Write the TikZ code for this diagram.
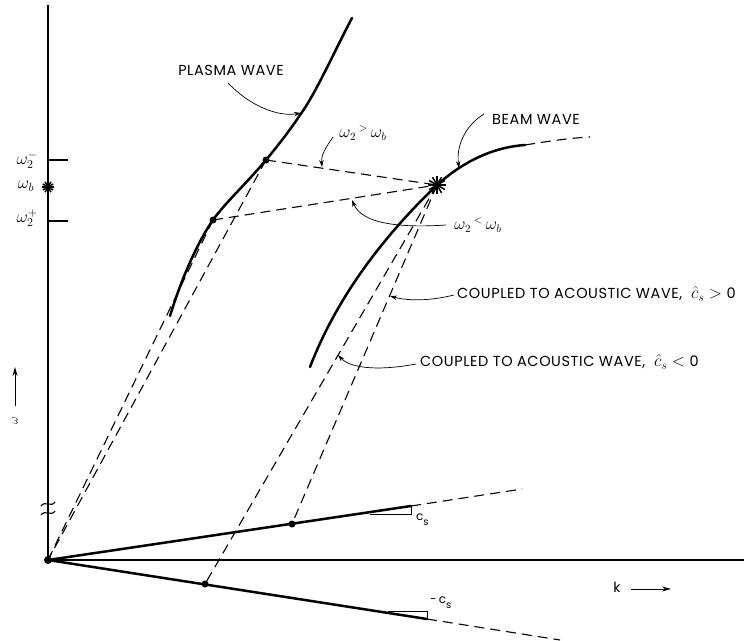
\documentclass[tikz,border=0pt]{standalone}
\usepackage{fontspec}
\setmainfont{Poppins}
\usetikzlibrary{arrows.meta,calc}
\begin{document}
\begin{tikzpicture}[x=1pt,y=-1pt,
  curve/.style={line width=2.5pt, line cap=round},
  axis/.style={line width=1.5pt},
  dline/.style={line width=1.1pt, dash pattern=on 10pt off 6pt},
  note/.style={line width=0.7pt, -{Stealth[length=7pt,width=4.5pt]}},
  lbl/.style={font=\fontsize{14.5}{16}\selectfont\addfontfeature{LetterSpace=4}, inner sep=0pt},
  mlbl/.style={font=\fontsize{17}{19}\selectfont, inner sep=0pt},
  dot/.style={circle, fill=black, inner sep=0pt, minimum size=7pt},
  thin/.style={line width=0.8pt},
  pics/burst/.style={code={\foreach \a in {0,30,...,150} \draw[line width=1.5pt] (\a:#1) -- (\a+180:#1);}}
]
\useasboundingbox (0,0) rectangle (744,640);
\clip (0,0) rectangle (744,640);

% key points
\coordinate (O) at (48,560);
\coordinate (ytop) at (48,5);
\coordinate (xend) at (760,560);
\coordinate (P1) at (266,160);
\coordinate (P2) at (213,220);
\coordinate (S) at (437,185);
\coordinate (A1) at (292,524);
\coordinate (A2) at (205,584);
\coordinate (U1) at (411,506);
\coordinate (U2) at (522,489);
\coordinate (L1) at (427,619);
\coordinate (L2) at (560,640);
\coordinate (Wb) at (48,187);
\coordinate (T1) at (48,160);
\coordinate (T1e) at (68,160);
\coordinate (T2) at (48,221);
\coordinate (T2e) at (68,221);
\coordinate (B1) at (525,145);
\coordinate (B2) at (590,137);
\coordinate (Ptop) at (352,18);
\coordinate (Pm) at (300,115);
\coordinate (Pbot) at (170,316);
\coordinate (Bbot) at (310,367);

% axes
\draw[axis] (ytop) -- (O) -- (xend);
\draw[axis] (T1) -- (T1e);
\draw[axis] (T2) -- (T2e);
\foreach \yy in {504,513}
  \draw[line width=1.1pt] (41,\yy+2) .. controls (45,\yy-4) and (51,\yy+4) .. (55,\yy-2);

% axis labels
\node[mlbl] (lw2m) at (27,160) {$\omega_2^-$};
\node[mlbl] (lwb) at (26,186) {$\omega_b$};
\node[mlbl] (lw2p) at (27,218) {$\omega_2^+$};
\pic at (Wb) {burst=6};

\node[inner sep=0pt, rotate=90, font=\fontsize{13}{14}\selectfont] (wlab) at (15,421) {$\omega$};
\coordinate (wa1) at (15,406);
\coordinate (wa2) at (15,367);
\draw[line width=1pt, -{Stealth[length=9pt,width=5pt]}] (wa1) -- (wa2);

\node[inner sep=0pt, font=\fontsize{14}{15}\selectfont] (klab) at (617,587) {k};
\coordinate (ka1) at (631,589);
\coordinate (ka2) at (671,589);
\draw[line width=1pt, -{Stealth[length=9pt,width=5pt]}] (ka1) -- (ka2);

% plasma wave
\draw[curve] (Ptop) .. controls (335,50) and (315,95) .. (Pm)
  .. controls (290,130) and (280,143) .. (P1)
  .. controls (245,185) and (225,203) .. (P2)
  .. controls (197,243) and (181,280) .. (Pbot);
% beam wave
\draw[curve] (Bbot) .. controls (330,315) and (367,252) .. (S)
  .. controls (465,160) and (495,147) .. (B1);
\draw[dline] (B1) .. controls (550,141) and (570,138) .. (B2);

% acoustic lines
\draw[curve] (O) -- (U1);
\draw[dline] (U1) -- (U2);
\draw[curve] (O) -- (L1);
\draw[dline] (L1) -- (L2);
% slope triangles
\draw[thin] (370,514) -- (411,514) -- (U1);
\draw[thin] (388,611) -- (427,611) -- (L1);
\node[inner sep=0pt, font=\fontsize{12}{13}\selectfont, anchor=west] (cs1) at (416,520) {c\raisebox{-5pt}{\fontsize{10}{11}\selectfont s}};
\node[inner sep=0pt, font=\fontsize{12}{13}\selectfont, anchor=west] (cs2) at (430,603) {-\,c\raisebox{-5pt}{\fontsize{10}{11}\selectfont s}};

% dashed construction lines
\draw[dline] (P1) -- (S);
\draw[dline] (P2) -- (S);
\draw[dline] (P1) -- (O);
\draw[dline] (P2) -- (O);
\draw[dline] (S) -- (A1);
\draw[dline] (S) -- (A2);

% dots and star
\node[dot] (dP1) at (P1) {};
\node[dot] (dP2) at (P2) {};
\node[dot] (dA1) at (A1) {};
\node[dot] (dA2) at (A2) {};
\node[dot, minimum size=8pt] (dO) at (O) {};
\pic at (S) {burst=9};

% labels
\node[lbl] (plasma) at (231,70) {PLASMA WAVE};
\node[lbl] (beam) at (536,119) {BEAM WAVE};
\node[lbl, anchor=west] (cpos) at (457,294) {COUPLED TO ACOUSTIC WAVE,\ \ {\fontsize{17}{18}\selectfont$\hat{c}_s$}\ {\fontsize{16}{18}\selectfont$>$}\ 0};
\node[lbl, anchor=west] (cneg) at (420,362) {COUPLED TO ACOUSTIC WAVE,\ \ {\fontsize{17}{18}\selectfont$\hat{c}_s$}\ {\fontsize{16}{18}\selectfont$<$}\ 0};
\node[mlbl, font=\fontsize{16}{18}\selectfont] (gt) at (363,133) {$\omega_2\,{}^{>}\,\omega_b$};
\node[mlbl, font=\fontsize{16}{18}\selectfont] (lt) at (478,225) {$\omega_2\,{}^{<}\,\omega_b$};

% annotation arrows
\coordinate (pa0) at (228,83);   \coordinate (pa1) at (301,113);
\coordinate (ga0) at (333,137);  \coordinate (ga1) at (322,167);
\coordinate (la0) at (446,225);  \coordinate (la1) at (352,200);
\coordinate (ba0) at (484,114);  \coordinate (ba1) at (459,168);
\coordinate (ca0) at (454,295);  \coordinate (ca1) at (390,296);
\coordinate (na0) at (416,364);  \coordinate (na1) at (338,355);
\draw[note] (pa0) .. controls (250,106) and (278,117) .. (pa1);
\draw[note] (ga0) .. controls (326,147) and (321,155) .. (ga1);
\draw[note] (la0) .. controls (400,228) and (362,224) .. (la1);
\draw[note] (ba0) .. controls (466,125) and (456,145) .. (ba1);
\draw[note] (ca0) .. controls (430,301) and (408,301) .. (ca1);
\draw[note] (na0) .. controls (385,370) and (352,370) .. (na1);
\end{tikzpicture}
\end{document}
